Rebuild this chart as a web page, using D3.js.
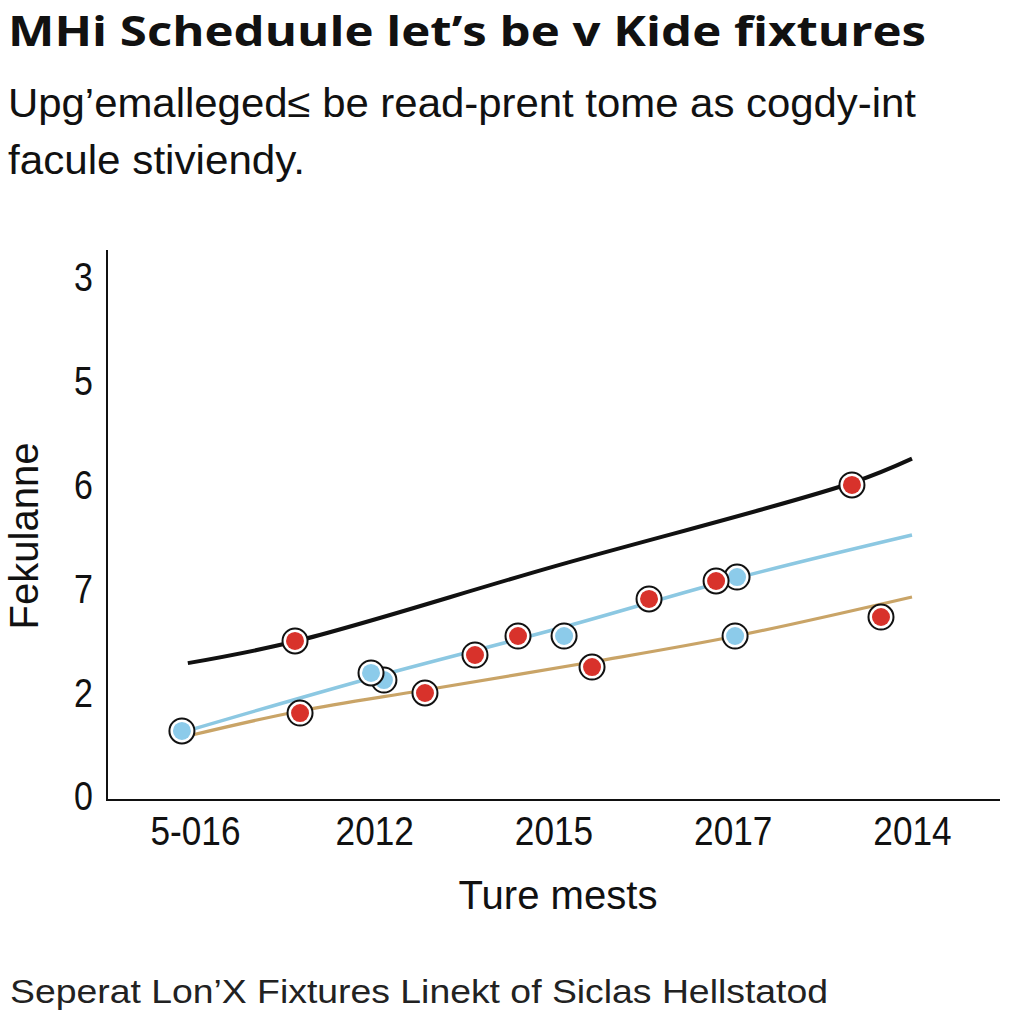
<!DOCTYPE html>
<html><head><meta charset="utf-8">
<script src="https://cdn.jsdelivr.net/npm/d3@7"></script>
<style>body{margin:0;background:#fff}svg{display:block}</style>
</head><body>
<script>
// ---- data ----
const titleText = "MHi Scheduule let’s be v Kide fixtures";
const subtitleLines = ["Upg’emalleged≤ be read-prent tome as cogdy-int", "facule stiviendy."];
const footerText = "Seperat Lon’X Fixtures Linekt of Siclas Hellstatod";
const yAxisTitle = "Fekulanne";
const xAxisTitle = "Ture mests";
const xTickLabels = ["5-016", "2012", "2015", "2017", "2014"];
const yTickLabels = ["0", "2", "7", "6", "5", "3"];

// lines: [x position index, value]
const blackLine = [[-0.04,1.29],[0.56,1.50],[2.0,2.22],[3.67,3.03],[4.0,3.26]];
const blueLine  = [[-0.067,0.626],[0.982,1.147],[2.036,1.628],[3.024,2.110],[4.0,2.524]];
const tanLine   = [[-0.017,0.597],[0.586,0.829],[1.283,1.031],[2.215,1.301],[3.018,1.551],[4.0,1.927]];

const redPoints = [[0.558,1.503],[0.586,0.809],[1.283,1.002],[1.562,1.368],[1.802,1.551],[2.215,1.252],[2.533,1.908],[2.907,2.081],[3.665,3.006],[3.827,1.734]];
const bluePoints = [[1.054,1.127],[-0.073,0.636],[0.982,1.195],[2.059,1.551],[3.024,2.119],[3.013,1.551]];

// ---- drawing ----
const W = 1024, H = 1024;
const svg = d3.select("body").append("svg").attr("width", W).attr("height", H);
const font = "'Liberation Sans', Arial, sans-serif";

svg.append("text").attr("x", 8).attr("y", 46).text(titleText)
  .attr("font-family", "'Open Sans', 'Liberation Sans', sans-serif").attr("font-weight", 700)
  .attr("font-size", 42).attr("fill", "#111").attr("textLength", 918).attr("lengthAdjust", "spacingAndGlyphs");

svg.append("text").attr("x", 8).attr("y", 117).text(subtitleLines[0])
  .attr("font-family", font).attr("font-size", 40).attr("fill", "#111")
  .attr("textLength", 908).attr("lengthAdjust", "spacingAndGlyphs");
svg.append("text").attr("x", 8).attr("y", 174).text(subtitleLines[1])
  .attr("font-family", font).attr("font-size", 40).attr("fill", "#111")
  .attr("textLength", 297).attr("lengthAdjust", "spacingAndGlyphs");

const x = d3.scaleLinear().domain([0, 4]).range([195, 912]);
const y = d3.scaleLinear().domain([0, 5]).range([797, 278]);

function condense(sel, f) {
  sel.each(function () {
    const L = this.getComputedTextLength();
    d3.select(this).attr("textLength", L * f).attr("lengthAdjust", "spacingAndGlyphs");
  });
}

// axes
const gx = svg.append("g").attr("transform", "translate(0,800)")
  .call(d3.axisBottom(x).tickValues([0,1,2,3,4]).tickFormat(i => xTickLabels[i]).tickSize(0).tickPadding(17));
gx.select(".domain").remove();
gx.selectAll("text").attr("font-family", font).attr("font-size", 40).attr("fill", "#111").call(condense, 0.88);

const gy = svg.append("g").attr("transform", "translate(107,0)")
  .call(d3.axisLeft(y).tickValues([0,1,2,3,4,5]).tickFormat(i => yTickLabels[i]).tickSize(0).tickPadding(14));
gy.select(".domain").remove();
gy.selectAll("text").attr("font-family", font).attr("font-size", 40).attr("fill", "#111").call(condense, 0.85);

svg.append("line").attr("x1", 107).attr("x2", 107).attr("y1", 250).attr("y2", 801).attr("stroke", "#111").attr("stroke-width", 2);
svg.append("line").attr("x1", 106).attr("x2", 1000).attr("y1", 800).attr("y2", 800).attr("stroke", "#111").attr("stroke-width", 2);

svg.append("text").attr("transform", "translate(38,536) rotate(-90)").attr("text-anchor", "middle")
  .text(yAxisTitle).attr("font-family", font).attr("font-size", 40).attr("fill", "#111");
svg.append("text").attr("x", 558).attr("y", 909).attr("text-anchor", "middle")
  .text(xAxisTitle).attr("font-family", font).attr("font-size", 40).attr("fill", "#111")
  .attr("textLength", 199).attr("lengthAdjust", "spacingAndGlyphs");

svg.append("text").attr("x", 10).attr("y", 1003).text(footerText)
  .attr("font-family", font).attr("font-size", 34).attr("fill", "#222")
  .attr("textLength", 818).attr("lengthAdjust", "spacingAndGlyphs");

const line = d3.line().x(d => x(d[0])).y(d => y(d[1])).curve(d3.curveCatmullRom);
svg.append("path").datum(tanLine).attr("d", line).attr("fill", "none").attr("stroke", "#c9a467").attr("stroke-width", 3.2);
svg.append("path").datum(blueLine).attr("d", line).attr("fill", "none").attr("stroke", "#8cc8e2").attr("stroke-width", 3.5);
svg.append("path").datum(blackLine).attr("d", line).attr("fill", "none").attr("stroke", "#111").attr("stroke-width", 4);

function dots(data, color) {
  const g = svg.append("g");
  const s = g.selectAll("g").data(data).join("g")
    .attr("transform", d => `translate(${x(d[0])},${y(d[1])})`);
  s.append("circle").attr("r", 12.5).attr("fill", "#fff").attr("stroke", "#111").attr("stroke-width", 2);
  s.append("circle").attr("r", 9).attr("fill", color);
}
dots(bluePoints, "#8ccbea");
dots(redPoints, "#d8322b");
</script>
</body></html>
